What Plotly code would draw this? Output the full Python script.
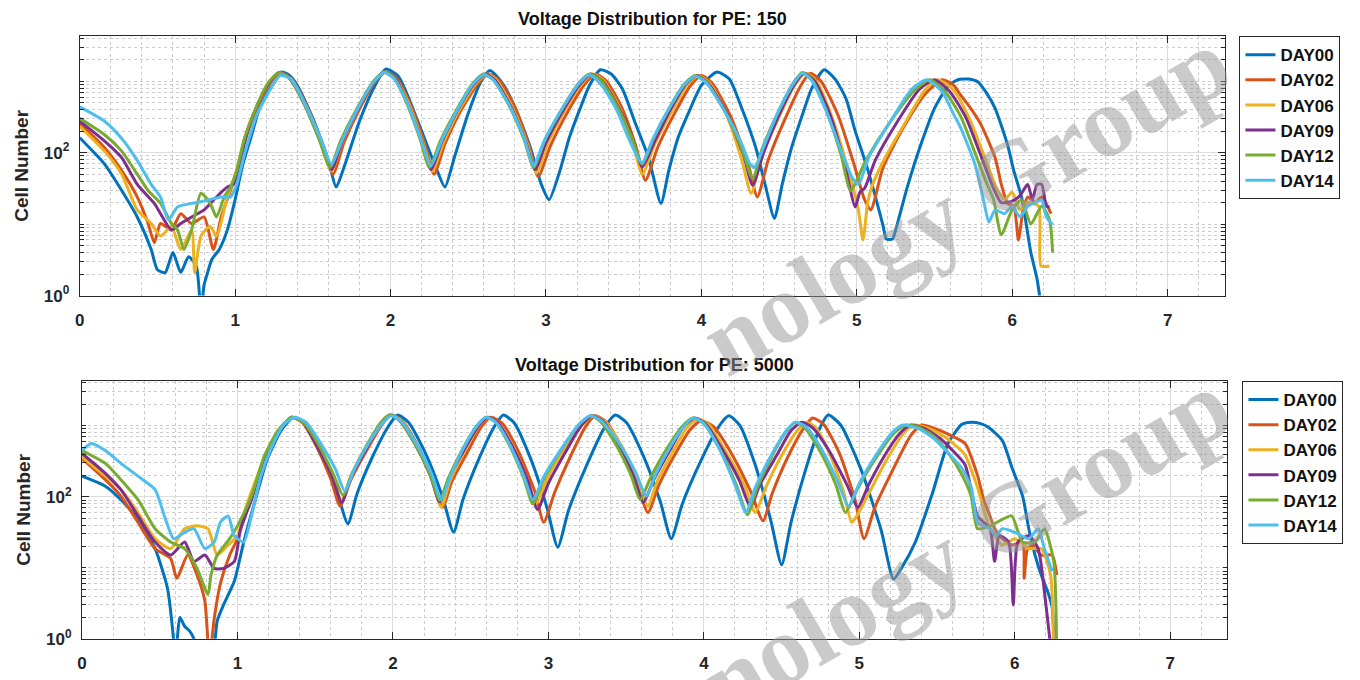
import plotly.graph_objects as go

NAMES = ["DAY00", "DAY02", "DAY06", "DAY09", "DAY12", "DAY14"]
COLORS = ["#0072BD", "#D95319", "#EDB120", "#7E2F8E", "#77AC30", "#4DBEEE"]
X_TICKS = [0, 1, 2, 3, 4, 5, 6, 7]
Y_TICKS = [1, 100]
Y_TICK_TEXT = ["10<sup>0</sup>", "10<sup>2</sup>"]
TITLES = ["Voltage Distribution for PE: 150", "Voltage Distribution for PE: 5000"]

# ---------------- PE 150 ----------------
TOP_D00_X = [0, 0.08, 0.16, 0.27, 0.37, 0.46, 0.50, 0.55, 0.60, 0.65, 0.70, 0.75, 0.78, 0.80, 0.82, 0.85, 0.90, 0.95, 1.00, 1.05,
             1.10, 1.15, 1.20, 1.25, 1.30, 1.35, 1.40, 1.50, 1.55, 1.60, 1.65, 1.70, 1.80, 1.90, 1.97, 2.05, 2.10, 2.20, 2.30, 2.35,
             2.41, 2.50, 2.58, 2.64, 2.73, 2.82, 2.90, 2.97, 3.02, 3.09, 3.15, 3.22, 3.28, 3.35, 3.42, 3.49, 3.57, 3.66, 3.74, 3.79,
             3.85, 3.92, 4.00, 4.10, 4.18, 4.26, 4.35, 4.41, 4.47, 4.52, 4.58, 4.65, 4.71, 4.79, 4.86, 4.93, 4.99, 5.06, 5.12, 5.17,
             5.19, 5.23, 5.25, 5.33, 5.42, 5.50, 5.59, 5.65, 5.72, 5.78, 5.83, 5.89, 5.97, 6.01, 6.06, 6.09, 6.12, 6.16, 6.19]
TOP_D00_Y = [162, 107, 69, 29.5, 12.6, 4.4, 2.3, 2.1, 4.0, 2.1, 3.5, 2.6, 0.6, 1.4, 2.0, 3.2, 4.5, 8.3, 22, 69,
             158, 380, 708, 1148, 1349, 1202, 871, 302, 158, 78, 33, 62, 275, 871, 1479, 1175, 708, 200, 56, 33,
             85, 355, 977, 1413, 871, 339, 117, 36, 22, 56, 162, 417, 871, 1445, 1259, 794, 275, 85, 19.5, 56,
             162, 372, 871, 1349, 1072, 417, 117, 36, 12, 36, 117, 339, 794, 1445, 1072, 575, 200, 69, 24, 9.3,
             6.2, 6.2, 8.3, 36, 145, 417, 871, 1047, 1072, 977, 708, 417, 129, 56, 24, 10, 4.0, 1.7, 0.6]

TOP_D02_X = [0, 0.16, 0.27, 0.37, 0.44, 0.48, 0.52, 0.59, 0.65, 0.72, 0.80, 0.86, 0.91, 0.97, 1.01, 1.06, 1.14, 1.22, 1.29, 1.36,
             1.46, 1.56, 1.63, 1.70, 1.80, 1.90, 1.97, 2.04, 2.13, 2.22, 2.28, 2.35, 2.45, 2.56, 2.63, 2.70, 2.80, 2.89, 2.95, 3.03,
             3.14, 3.25, 3.32, 3.39, 3.49, 3.58, 3.64, 3.72, 3.83, 3.93, 4.00, 4.07, 4.19, 4.30, 4.36, 4.43, 4.54, 4.64, 4.70, 4.77,
             4.88, 4.98, 5.05, 5.09, 5.17, 5.30, 5.44, 5.55, 5.62, 5.67, 5.74, 5.80, 5.89, 5.93, 5.97, 6.01, 6.04, 6.07, 6.10, 6.15,
             6.19, 6.25]
TOP_D02_Y = [257, 117, 56, 24, 10.2, 5.5, 10.2, 8.3, 14, 10.2, 12.6, 4.4, 12.6, 29.5, 56, 141, 417, 912, 1318, 1096,
             457, 135, 50, 138, 407, 977, 1349, 1096, 457, 132, 50, 132, 380, 912, 1259, 1023, 437, 126, 46, 126,
             372, 912, 1259, 1000, 417, 120, 41, 120, 363, 871, 1202, 933, 316, 71, 24, 79, 302, 871, 1288, 1000,
             331, 71, 22, 15.8, 63, 224, 661, 1047, 891, 631, 398, 245, 85, 36, 19.5, 17.8, 6.0, 15.8, 24, 20,
             24, 14]

TOP_D06_X = [0, 0.16, 0.27, 0.37, 0.46, 0.52, 0.59, 0.65, 0.72, 0.74, 0.78, 0.84, 0.88, 0.95, 1.01, 1.06, 1.14, 1.22, 1.28, 1.35,
             1.45, 1.55, 1.62, 1.69, 1.79, 1.89, 1.96, 2.03, 2.12, 2.21, 2.27, 2.34, 2.44, 2.55, 2.62, 2.68, 2.78, 2.88, 2.94, 3.01,
             3.12, 3.23, 3.30, 3.37, 3.47, 3.56, 3.62, 3.70, 3.81, 3.91, 3.98, 4.05, 4.16, 4.26, 4.32, 4.39, 4.50, 4.60, 4.67, 4.74,
             4.84, 4.94, 5.01, 5.04, 5.07, 5.10, 5.18, 5.32, 5.44, 5.52, 5.62, 5.72, 5.82, 5.90, 5.95, 6.00, 6.05, 6.10, 6.17, 6.185,
             6.24]
TOP_D06_Y = [234, 105, 50, 15.8, 10.2, 6.8, 9.3, 4.4, 8.3, 2.1, 6.8, 9.3, 6.8, 24, 56, 158, 447, 933, 1318, 1096,
             457, 138, 55, 141, 407, 977, 1349, 1096, 468, 135, 55, 138, 389, 933, 1259, 1047, 447, 132, 52, 132,
             380, 912, 1259, 1023, 437, 132, 50, 132, 380, 891, 1202, 955, 355, 79, 27, 89, 316, 871, 1288, 1000,
             316, 63, 15.8, 6.0, 20, 35, 83, 282, 759, 1047, 759, 316, 89, 31.6, 22, 28, 15.8, 20, 17.8, 2.6,
             2.6]

TOP_D09_X = [0, 0.16, 0.27, 0.37, 0.48, 0.59, 0.65, 0.72, 0.80, 0.88, 0.95, 0.99, 1.03, 1.08, 1.15, 1.22, 1.28, 1.35, 1.45, 1.55,
             1.62, 1.69, 1.79, 1.89, 1.96, 2.03, 2.11, 2.20, 2.26, 2.33, 2.43, 2.54, 2.61, 2.67, 2.77, 2.87, 2.93, 3.00, 3.11, 3.22,
             3.29, 3.36, 3.46, 3.56, 3.62, 3.70, 3.80, 3.90, 3.97, 4.04, 4.16, 4.27, 4.33, 4.40, 4.50, 4.60, 4.66, 4.73, 4.83, 4.92,
             4.99, 5.02, 5.05, 5.12, 5.26, 5.40, 5.50, 5.60, 5.70, 5.80, 5.88, 5.93, 6.00, 6.05, 6.10, 6.13, 6.16, 6.19, 6.22, 6.24]
TOP_D09_Y = [275, 145, 85, 36, 19.5, 8.3, 10.2, 12.6, 15.8, 24, 33, 36, 71, 200, 501, 955, 1318, 1096, 457, 141,
             58, 145, 407, 977, 1349, 1096, 479, 145, 58, 141, 389, 933, 1259, 1047, 457, 141, 58, 138, 389, 912,
             1259, 1023, 457, 151, 63, 145, 398, 912, 1202, 955, 363, 95, 35, 100, 339, 912, 1288, 1000, 331, 72,
             17.4, 28, 31.6, 79, 269, 759, 1047, 708, 316, 89, 31.6, 20, 21, 25, 36, 22, 36, 36, 17.8, 17.4]

TOP_D12_X = [0, 0.16, 0.27, 0.37, 0.44, 0.52, 0.59, 0.63, 0.67, 0.72, 0.78, 0.84, 0.88, 0.93, 0.97, 1.01, 1.06, 1.14, 1.21, 1.28,
             1.35, 1.445, 1.54, 1.61, 1.68, 1.785, 1.89, 1.96, 2.02, 2.105, 2.19, 2.25, 2.32, 2.425, 2.53, 2.60, 2.66, 2.76, 2.86, 2.92,
             2.99, 3.10, 3.21, 3.28, 3.35, 3.45, 3.55, 3.62, 3.69, 3.79, 3.89, 3.96, 4.03, 4.145, 4.26, 4.33, 4.39, 4.49, 4.59, 4.65,
             4.71, 4.805, 4.90, 4.96, 5.06, 5.215, 5.37, 5.47, 5.57, 5.67, 5.76, 5.83, 5.88, 5.93, 6.00, 6.06, 6.12, 6.19, 6.24, 6.26]
TOP_D12_Y = [302, 178, 105, 50, 29.5, 19.5, 10.2, 8.3, 4.4, 8.3, 27, 19.5, 12.6, 24, 33, 56, 158, 457, 933, 1318,
             1096, 479, 155, 62, 148, 417, 1000, 1349, 1122, 490, 155, 62, 145, 398, 933, 1259, 1047, 468, 151, 62,
             145, 398, 933, 1259, 1047, 479, 166, 69, 155, 407, 912, 1202, 977, 398, 115, 43, 112, 355, 933, 1318,
             1047, 380, 91, 29.5, 79, 269, 741, 1047, 708, 316, 100, 40, 22, 7.1, 16, 22, 10, 18, 11.5, 4]

TOP_D14_X = [0, 0.16, 0.27, 0.37, 0.46, 0.52, 0.57, 0.63, 0.72, 0.80, 0.91, 0.97, 1.01, 1.06, 1.14, 1.23, 1.29, 1.36, 1.45, 1.55,
             1.62, 1.69, 1.79, 1.89, 1.96, 2.02, 2.11, 2.19, 2.26, 2.33, 2.43, 2.53, 2.60, 2.66, 2.76, 2.86, 2.92, 2.99, 3.10, 3.21,
             3.28, 3.36, 3.45, 3.53, 3.60, 3.62, 3.69, 3.79, 3.89, 3.96, 4.03, 4.145, 4.26, 4.31, 4.34, 4.36, 4.40, 4.49, 4.59, 4.65,
             4.71, 4.80, 4.90, 4.97, 5.01, 5.08, 5.22, 5.35, 5.45, 5.55, 5.62, 5.67, 5.76, 5.82, 5.85, 5.89, 5.95, 6.00, 6.05, 6.10,
             6.15, 6.19, 6.22, 6.26]
TOP_D14_Y = [437, 275, 158, 78, 36, 24, 11.5, 17.4, 19.5, 21, 24, 24, 36, 95, 339, 794, 1202, 1072, 479, 158,
             69, 151, 417, 977, 1318, 1096, 479, 166, 66, 148, 398, 912, 1230, 1047, 479, 158, 66, 148, 398, 912,
             1230, 871, 417, 162, 78, 72, 158, 407, 891, 1175, 955, 398, 132, 71, 62, 72, 120, 355, 912, 1288,
             1023, 398, 105, 45, 36, 89, 282, 759, 1047, 708, 355, 219, 69, 19.5, 10.7, 15.8, 14, 17.8, 12.6, 17.8,
             20, 22, 12.6, 9.8]

# ---------------- PE 5000 ----------------
BOT_D00_X = [0, 0.15, 0.25, 0.36, 0.47, 0.55, 0.585, 0.60, 0.63, 0.66, 0.69, 0.72, 0.78, 0.85, 0.87, 0.91, 0.98, 1.04, 1.11, 1.19,
             1.28, 1.36, 1.43, 1.535, 1.64, 1.71, 1.77, 1.87, 1.97, 2.03, 2.10, 2.21, 2.32, 2.39, 2.45, 2.55, 2.65, 2.71, 2.78, 2.885,
             2.99, 3.06, 3.13, 3.245, 3.36, 3.43, 3.50, 3.61, 3.72, 3.79, 3.86, 3.975, 4.09, 4.16, 4.23, 4.33, 4.43, 4.50, 4.56, 4.65,
             4.74, 4.80, 4.88, 5.01, 5.14, 5.22, 5.27, 5.36, 5.47, 5.57, 5.66, 5.72, 5.78, 5.83, 5.92, 5.98, 6.05, 6.09, 6.13, 6.17,
             6.21, 6.24, 6.25, 6.26]
BOT_D00_Y = [195, 141, 91, 48, 18.6, 5.1, 1.2, 0.5, 2.0, 1.5, 1.3, 1.0, 0.3, 0.8, 1.8, 3.0, 6.5, 23, 83, 331,
             851, 1318, 1072, 427, 117, 41.7, 112, 372, 977, 1413, 1122, 407, 98, 31.6, 91, 331, 955, 1413, 1096, 347,
             71, 19.5, 65, 275, 933, 1413, 1122, 380, 85, 25.7, 78, 302, 933, 1380, 1023, 282, 47, 11, 43, 224,
             871, 1413, 1023, 245, 34, 6.9, 9.8, 23, 112, 562, 1047, 1122, 1072, 955, 617, 263, 102, 35.5, 15.1, 7.9,
             4.7, 2.8, 1.17, 0.5]

BOT_D02_X = [0, 0.15, 0.25, 0.36, 0.47, 0.57, 0.61, 0.68, 0.74, 0.79, 0.82, 0.85, 0.89, 0.95, 0.99, 1.05, 1.12, 1.19, 1.27, 1.35,
             1.42, 1.51, 1.60, 1.66, 1.73, 1.83, 1.93, 1.99, 2.06, 2.16, 2.26, 2.32, 2.38, 2.48, 2.57, 2.63, 2.70, 2.80, 2.91, 2.97,
             3.04, 3.14, 3.24, 3.30, 3.37, 3.47, 3.57, 3.64, 3.71, 3.81, 3.91, 3.98, 4.06, 4.18, 4.30, 4.38, 4.44, 4.54, 4.64, 4.70,
             4.77, 4.87, 4.97, 5.03, 5.10, 5.22, 5.33, 5.40, 5.50, 5.60, 5.68, 5.76, 5.80, 5.84, 5.87, 5.92, 5.98, 6.05, 6.06, 6.08,
             6.11, 6.17, 6.24, 6.27]
BOT_D02_Y = [347, 174, 102, 43.7, 18.6, 13.5, 7.1, 15.1, 7.9, 3.4, 0.5, 1.9, 6.0, 15.1, 23, 53.7, 158, 398, 871, 1318,
             1096, 501, 178, 74, 174, 447, 1047, 1413, 1175, 525, 178, 71, 166, 427, 977, 1318, 1096, 468, 123, 43.7,
             115, 363, 977, 1380, 1148, 501, 155, 60, 145, 380, 871, 1175, 977, 398, 120, 45.7, 112, 363, 912, 1288,
             1047, 417, 95, 25.7, 71, 251, 724, 1023, 891, 708, 562, 200, 91, 53.7, 35.5, 25.7, 20.9, 22.9, 7.1, 17.8,
             20.9, 15.1, 15.1, 7.9]

BOT_D06_X = [0, 0.15, 0.25, 0.36, 0.47, 0.57, 0.66, 0.74, 0.81, 0.87, 0.94, 1.00, 1.05, 1.12, 1.19, 1.27, 1.35, 1.42, 1.51, 1.61,
             1.67, 1.73, 1.83, 1.92, 1.98, 2.05, 2.15, 2.25, 2.31, 2.37, 2.46, 2.55, 2.61, 2.67, 2.77, 2.86, 2.92, 2.99, 3.10, 3.22,
             3.29, 3.36, 3.47, 3.57, 3.64, 3.70, 3.80, 3.89, 3.96, 4.03, 4.14, 4.26, 4.33, 4.40, 4.50, 4.60, 4.66, 4.72, 4.81, 4.90,
             4.95, 4.98, 5.05, 5.17, 5.28, 5.35, 5.45, 5.55, 5.62, 5.68, 5.76, 5.84, 5.92, 6.00, 6.09, 6.17, 6.23, 6.25]
BOT_D06_Y = [363, 195, 126, 60, 25.7, 18.6, 35.5, 38.9, 35.5, 15.1, 20.9, 28.2, 66, 178, 417, 891, 1318, 1122, 537, 200,
             89, 200, 490, 1096, 1413, 1202, 537, 178, 71, 174, 437, 977, 1318, 1122, 525, 186, 79, 178, 468, 1047,
             1380, 1175, 525, 178, 74, 166, 427, 933, 1259, 1047, 437, 148, 60, 138, 380, 851, 1122, 933, 398, 115,
             43.7, 52, 100, 316, 759, 1023, 912, 692, 525, 389, 135, 35.5, 20.9, 25.7, 18.6, 18.6, 7.9, 0.5]

BOT_D09_X = [0, 0.15, 0.25, 0.36, 0.47, 0.57, 0.66, 0.72, 0.79, 0.85, 0.91, 0.98, 1.02, 1.09, 1.17, 1.26, 1.35, 1.42, 1.51, 1.61,
             1.67, 1.73, 1.83, 1.92, 1.98, 2.04, 2.14, 2.24, 2.30, 2.36, 2.46, 2.55, 2.61, 2.67, 2.77, 2.87, 2.93, 3.00, 3.11, 3.21,
             3.28, 3.35, 3.45, 3.55, 3.61, 3.68, 3.78, 3.87, 3.94, 4.01, 4.12, 4.23, 4.30, 4.36, 4.47, 4.56, 4.63, 4.70, 4.81, 4.92,
             4.99, 5.06, 5.16, 5.26, 5.33, 5.42, 5.52, 5.60, 5.68, 5.76, 5.84, 5.87, 5.90, 5.96, 5.99, 6.02, 6.09, 6.15, 6.20, 6.24]
BOT_D09_Y = [407, 214, 126, 53.7, 23, 15.1, 23, 12.3, 15.1, 9.8, 9.8, 12.3, 35.5, 91, 331, 832, 1318, 1122, 525, 191,
             83, 191, 479, 1072, 1413, 1202, 562, 200, 85, 186, 468, 1000, 1318, 1122, 501, 162, 66, 155, 427, 1000,
             1380, 1175, 537, 191, 83, 178, 447, 977, 1288, 1072, 457, 166, 71, 148, 389, 851, 1122, 933, 427, 148,
             71, 148, 372, 776, 1023, 912, 661, 447, 282, 53.7, 35.5, 12.3, 28.2, 23, 3.0, 23, 28.2, 18.6, 3.0, 0.5]

BOT_D12_X = [0, 0.15, 0.25, 0.36, 0.47, 0.57, 0.66, 0.74, 0.81, 0.83, 0.87, 0.95, 1.00, 1.09, 1.17, 1.26, 1.35, 1.42, 1.515, 1.61,
             1.68, 1.74, 1.83, 1.92, 1.98, 2.04, 2.14, 2.24, 2.30, 2.36, 2.45, 2.54, 2.60, 2.66, 2.75, 2.84, 2.90, 2.97, 3.085, 3.20,
             3.27, 3.33, 3.43, 3.53, 3.59, 3.66, 3.76, 3.86, 3.93, 4.00, 4.105, 4.21, 4.28, 4.34, 4.435, 4.53, 4.59, 4.65, 4.75, 4.85,
             4.91, 4.99, 5.105, 5.22, 5.30, 5.38, 5.48, 5.57, 5.66, 5.72, 5.76, 5.84, 5.92, 5.98, 6.05, 6.13, 6.19, 6.25, 6.27]
BOT_D12_Y = [447, 295, 174, 91, 35.5, 23, 18.6, 9.8, 4.2, 7.9, 15.1, 25.7, 38.9, 102, 363, 851, 1318, 1122, 575, 224,
             105, 219, 525, 1096, 1413, 1202, 562, 204, 89, 191, 479, 1000, 1318, 1122, 525, 186, 79, 178, 468, 1047,
             1380, 1175, 562, 204, 91, 191, 468, 977, 1288, 1072, 457, 145, 56, 129, 363, 832, 1122, 933, 427, 145,
             60, 132, 347, 776, 1023, 955, 708, 417, 204, 100, 35.5, 38.9, 48, 54, 23, 23, 35.5, 12.3, 0.5]

BOT_D14_X = [0, 0.06, 0.15, 0.25, 0.36, 0.47, 0.53, 0.59, 0.66, 0.72, 0.79, 0.85, 0.89, 0.94, 0.98, 1.04, 1.09, 1.15, 1.22, 1.30,
             1.37, 1.44, 1.53, 1.63, 1.69, 1.75, 1.84, 1.93, 1.99, 2.05, 2.15, 2.25, 2.31, 2.37, 2.455, 2.54, 2.60, 2.66, 2.75, 2.84,
             2.90, 2.97, 3.085, 3.20, 3.27, 3.34, 3.45, 3.56, 3.63, 3.69, 3.78, 3.87, 3.93, 4.00, 4.10, 4.20, 4.27, 4.33, 4.43, 4.53,
             4.59, 4.66, 4.76, 4.86, 4.93, 5.00, 5.105, 5.21, 5.28, 5.38, 5.48, 5.57, 5.66, 5.72, 5.76, 5.80, 5.84, 5.88, 5.92, 6.00,
             6.09, 6.15, 6.19, 6.24]
BOT_D14_Y = [447, 562, 447, 295, 195, 126, 53.7, 25.7, 31.6, 35.5, 18.6, 23, 43.7, 53.7, 28.2, 23, 53.7, 195, 501, 1047,
             1318, 1122, 589, 245, 120, 240, 550, 1072, 1380, 1175, 562, 209, 91, 195, 490, 1000, 1318, 1122, 550, 200,
             91, 191, 479, 1072, 1380, 1175, 589, 224, 102, 209, 490, 977, 1288, 1072, 468, 148, 60, 135, 372, 851,
             1122, 955, 457, 166, 74, 155, 380, 794, 1023, 912, 661, 417, 251, 135, 43.7, 38.9, 35.5, 28.2, 35.5, 31.6,
             25.7, 35.5, 18.6, 8.9]

TOP_SERIES = [(TOP_D00_X, TOP_D00_Y), (TOP_D02_X, TOP_D02_Y), (TOP_D06_X, TOP_D06_Y),
              (TOP_D09_X, TOP_D09_Y), (TOP_D12_X, TOP_D12_Y), (TOP_D14_X, TOP_D14_Y)]
BOT_SERIES = [(BOT_D00_X, BOT_D00_Y), (BOT_D02_X, BOT_D02_Y), (BOT_D06_X, BOT_D06_Y),
              (BOT_D09_X, BOT_D09_Y), (BOT_D12_X, BOT_D12_Y), (BOT_D14_X, BOT_D14_Y)]

fig = go.Figure()
for (xs, ys), name, col in zip(TOP_SERIES, NAMES, COLORS):
    n = min(len(xs), len(ys))
    fig.add_trace(go.Scatter(x=xs[:n], y=ys[:n], mode="lines", name=name,
                             line=dict(color=col, width=3, shape="spline", smoothing=0.6),
                             xaxis="x", yaxis="y", legend="legend"))
for (xs, ys), name, col in zip(BOT_SERIES, NAMES, COLORS):
    n = min(len(xs), len(ys))
    fig.add_trace(go.Scatter(x=xs[:n], y=ys[:n], mode="lines", name=name,
                             line=dict(color=col, width=3, shape="spline", smoothing=0.6),
                             xaxis="x2", yaxis="y2", legend="legend2"))

AX = "#262626"
TICKFONT = dict(family="Liberation Sans", size=17, color=AX, weight="bold")
MINOR_Y = [2, 3, 4, 5, 6, 7, 8, 9, 10, 20, 30, 40, 50, 60, 70, 80, 90,
           200, 300, 400, 500, 600, 700, 800, 900, 1000, 2000, 3000, 4000]

def xaxis_style(y_anchor, domain):
    return dict(domain=domain, anchor=y_anchor, range=[0, 7.366], tickvals=X_TICKS,
                ticks="inside", ticklen=7, tickcolor=AX, tickwidth=1,
                showline=True, linecolor=AX, linewidth=1, mirror="ticks",
                showgrid=True, gridcolor="#dcdcdc", gridwidth=1, zeroline=False,
                tickfont=TICKFONT, ticklabelstandoff=9,
                minor=dict(dtick=0.2, showgrid=True, gridcolor="#cccccc", griddash="dot", gridwidth=1, ticks=""))

def yaxis_style(x_anchor, domain):
    return dict(domain=domain, anchor=x_anchor, type="log", range=[0, 3.63],
                tickvals=Y_TICKS, ticktext=Y_TICK_TEXT,
                ticks="inside", ticklen=7, tickcolor=AX, tickwidth=1,
                showline=True, linecolor=AX, linewidth=1, mirror="ticks",
                showgrid=True, gridcolor="#dcdcdc", gridwidth=1, zeroline=False,
                tickfont=TICKFONT, ticklabelstandoff=6,
                title=dict(text="Cell Number", font=dict(family="Liberation Sans", size=19, color=AX, weight="bold"),
                           standoff=10),
                minor=dict(tickmode="array", tickvals=MINOR_Y, ticks="inside", ticklen=4, tickcolor=AX,
                           showgrid=True, gridcolor="#cccccc", griddash="dot", gridwidth=1))

LEGEND_BASE = dict(xanchor="left", yanchor="top", bordercolor=AX, borderwidth=1, bgcolor="white",
                   font=dict(family="Liberation Sans", size=17, color="#111111", weight="bold"),
                   tracegroupgap=0)

fig.update_layout(
    width=1360, height=680, margin=dict(l=0, r=0, t=0, b=0),
    paper_bgcolor="white", plot_bgcolor="white", showlegend=True,
    xaxis=xaxis_style("y", [75 / 1360, 1224 / 1360]),
    yaxis=yaxis_style("x", [1 - 300 / 680, 1 - 36.7 / 680]),
    xaxis2=xaxis_style("y2", [77.3 / 1360, 1226.7 / 1360]),
    yaxis2=yaxis_style("x2", [1 - 648.3 / 680, 1 - 386.7 / 680]),
    legend=dict(LEGEND_BASE, x=1239 / 1360, y=1 - 36.7 / 680),
    legend2=dict(LEGEND_BASE, x=1242 / 1360, y=1 - 386.7 / 680),
)

annotations = []
for title, cx, cy in [(TITLES[0], 649.5, 19), (TITLES[1], 652, 370)]:
    annotations.append(dict(text=f"<b>{title}</b>", x=cx / 1360, y=1 - cy / 680, xref="paper", yref="paper",
                            showarrow=False, xanchor="center", yanchor="middle",
                            font=dict(family="Liberation Sans", size=18, color="#111111")))
for cy in [205, 552]:
    annotations.append(dict(text="nology Group", x=965 / 1360, y=1 - cy / 680, xref="paper", yref="paper",
                            showarrow=False, textangle=-30, xanchor="center", yanchor="middle",
                            font=dict(family="Liberation Serif", size=100, color="rgba(150,150,150,0.5)",
                                      weight="bold")))
fig.update_layout(annotations=annotations)

fig.write_html("out.html")
